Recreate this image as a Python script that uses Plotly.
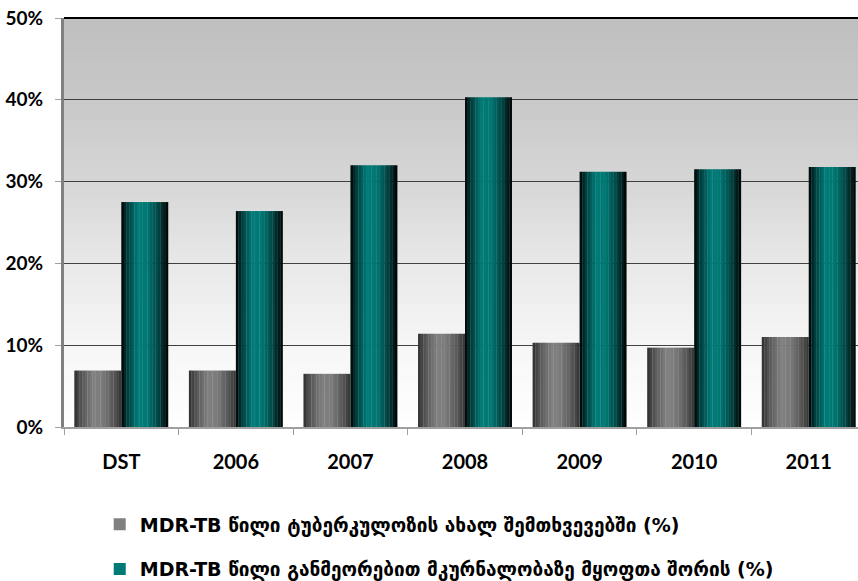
import plotly.graph_objects as go

categories = ["DST", "2006", "2007", "2008", "2009", "2010", "2011"]
new_cases = [6.9, 6.9, 6.5, 11.4, 10.3, 9.7, 11.0]
retreated = [27.5, 26.4, 32.0, 40.3, 31.2, 31.5, 31.8]
series_names = [
    "MDR-TB წილი ტუბერკულოზის ახალ შემთხვევებში (%)",
    "MDR-TB წილი განმეორებით მკურნალობაზე მყოფთა შორის (%)",
]
y_ticks = [0, 10, 20, 30, 40, 50]

FONT = "Lato, 'DejaVu Sans', sans-serif"
LEG_FONT = "'DejaVu Sans', sans-serif"

def hex2rgb(h):
    h = h.lstrip("#")
    return [int(h[i:i + 2], 16) for i in (0, 2, 4)]

def interp(stops, t):
    for (t0, c0), (t1, c1) in zip(stops, stops[1:]):
        if t0 <= t <= t1:
            a = (t - t0) / (t1 - t0) if t1 > t0 else 0
            r0, r1 = hex2rgb(c0), hex2rgb(c1)
            return "rgb(%d,%d,%d)" % tuple(round(x + (y - x) * a) for x, y in zip(r0, r1))
    return stops[-1][1]

gray_stops = [(0, "#2e2e2e"), (0.15, "#555555"), (0.4, "#808080"), (0.6, "#7b7b7b"),
              (0.85, "#545454"), (1, "#333333")]
teal_stops = [(0, "#000000"), (0.12, "#013a39"), (0.35, "#007b77"), (0.55, "#007874"),
              (0.8, "#014240"), (1, "#000000")]

fig = go.Figure()
N = 18
W = 0.41
for s, (vals, stops, base, grp) in enumerate([
        (new_cases, gray_stops, -W, "g1"),
        (retreated, teal_stops, 0.0, "g2")]):
    for i in range(N):
        t = (i + 0.5) / N
        fig.add_trace(go.Bar(
            x=categories, y=vals,
            offset=base + i * W / N, width=W / N * 1.1 if i < N - 1 else W / N,
            marker=dict(color=interp(stops, t), line=dict(width=0)),
            name=series_names[s], legendgroup=grp,
            showlegend=(i == int(N * 0.4)),
            hoverinfo="skip",
        ))

# background gradient
bg_stops = [(0, "#ffffff"), (0.2, "#f6f6f6"), (0.4, "#e8e8e8"), (0.6, "#d6d6d6"),
            (0.8, "#c8c8c8"), (1, "#bfbfbf")]
shapes = []
M = 60
for k in range(M):
    f0 = k / M
    shapes.append(dict(type="rect", xref="paper", yref="paper", x0=0, x1=1,
                       y0=f0, y1=f0 + 1 / M + 0.002, layer="below",
                       fillcolor=interp(bg_stops, (k + 0.5) / M), line=dict(width=0)))
shapes.append(dict(type="line", xref="paper", yref="paper", x0=0, x1=1, y0=1, y1=1,
                   line=dict(color="black", width=2)))

fig.update_layout(
    width=858, height=581,
    margin=dict(l=64, r=0, t=18, b=154, autoexpand=False),
    paper_bgcolor="white", plot_bgcolor="white",
    barmode="overlay",
    shapes=shapes,
    font=dict(family=FONT, size=20, color="black", weight="bold"),
    showlegend=True,
    legend=dict(orientation="v", x=0.045, xanchor="left", yref="container", y=0.13,
                yanchor="top", font=dict(size=19, family=LEG_FONT, weight="bold"),
                tracegroupgap=17, bgcolor="rgba(0,0,0,0)", traceorder="grouped",
                itemsizing="constant"),
    xaxis=dict(type="category", tickson="boundaries", ticks="outside", ticklen=6,
               tickcolor="#a0a0a0", showline=True, linecolor="#a0a0a0", linewidth=2,
               showgrid=False, ticklabelstandoff=16, range=[-0.5, 6.43], automargin=False),
    yaxis=dict(range=[0, 50], tickvals=y_ticks, ticktext=[f"{v}%" for v in y_ticks],
               ticks="outside", ticklen=6, tickcolor="#a0a0a0", showline=True,
               linecolor="#808080", linewidth=3, showgrid=True, gridcolor="#404040",
               gridwidth=1, ticklabelstandoff=8, zeroline=False, automargin=False,
               tickfont=dict(size=19)),
)

fig.write_html("out.html", config={"displayModeBar": False},
               post_script="document.body.style.margin='0';")
